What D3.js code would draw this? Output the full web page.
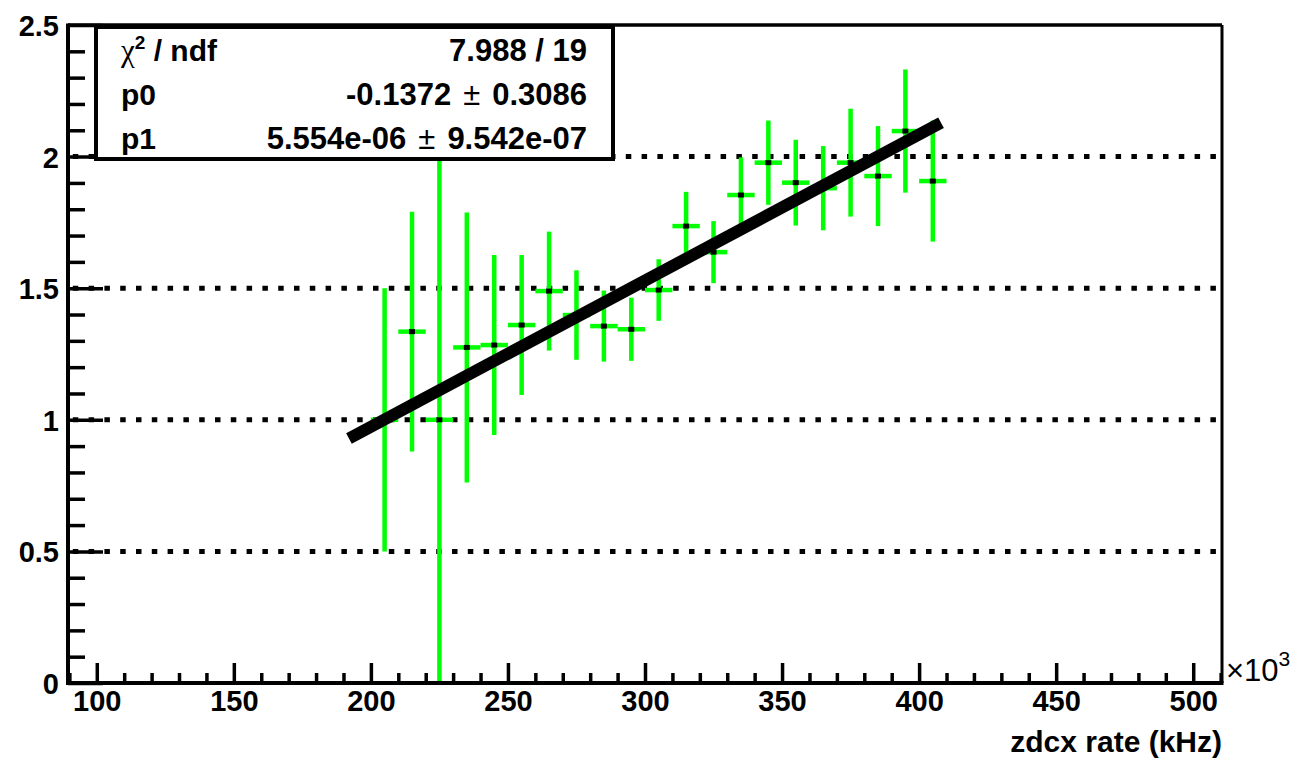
<!DOCTYPE html>
<html>
<head>
<meta charset="utf-8">
<script src="https://cdn.jsdelivr.net/npm/d3@7/dist/d3.min.js"></script>
<style>
  html, body { margin: 0; padding: 0; background: #fff; }
  svg { display: block; }
  text { font-family: "Liberation Sans", Arial, Helvetica, sans-serif; }
</style>
</head>
<body>
<svg id="chart" width="1290" height="759"></svg>
<script>
// ---- data (x in units of 10^3 kHz as shown on the axis) ----
const xValues = [205, 215, 225, 235, 245, 255, 265, 275, 285, 295, 305, 315, 325, 335, 345, 355, 365, 375, 385, 395, 405];
const yValues = [1.000, 1.335, 1.000, 1.275, 1.284, 1.360, 1.489, 1.398, 1.356, 1.344, 1.493, 1.736, 1.637, 1.854, 1.977, 1.901, 1.880, 1.977, 1.926, 2.097, 1.907];
const yErrors = [0.500, 0.455, 1.000, 0.513, 0.342, 0.266, 0.226, 0.170, 0.135, 0.120, 0.117, 0.130, 0.118, 0.143, 0.160, 0.163, 0.160, 0.205, 0.190, 0.234, 0.230];
const xHalfWidth = 5;
const fitRange = [192, 408];
const fitParams = { p0: -0.1372, p1: 5.554e-06 };
const xMajorTicks = [100, 150, 200, 250, 300, 350, 400, 450, 500];
const yMajorTicks = [0, 0.5, 1, 1.5, 2, 2.5];
const yTickLabels = ["0", "0.5", "1", "1.5", "2", "2.5"];
const gridLevels = [0.5, 1, 1.5, 2];
const statsLabels = ["chi2", "p0", "p1"];
const statsValues = [["7.988 / 19"], ["-0.1372", "\u00b1", "0.3086"], ["5.554e-06", "\u00b1", "9.542e-07"]];
const xTitle = "zdcx rate (kHz)";

// ---- layout ----
const frame = { left: 68, right: 1222, top: 25, bottom: 683 };
const svg = d3.select("#chart");
const x = d3.scaleLinear().domain([89.5, 510.5]).range([frame.left, frame.right]);
const y = d3.scaleLinear().domain([0, 2.5]).range([frame.bottom, frame.top]);
const green = "#00ff00";

// grid (horizontal dotted lines)
svg.append("g").selectAll("line").data(gridLevels).join("line")
  .attr("x1", frame.left).attr("x2", frame.right)
  .attr("y1", d => y(d)).attr("y2", d => y(d))
  .attr("stroke", "#000").attr("stroke-width", 5)
  .attr("stroke-dasharray", "5.5 10.3").attr("stroke-dashoffset", 11);

// error bars
const pts = xValues.map((xv, i) => ({ x: xv, y: yValues[i], e: yErrors[i] }));
const gE = svg.append("g").attr("stroke", green).attr("stroke-width", 4.5);
gE.selectAll("line.v").data(pts).join("line").attr("class", "v")
  .attr("x1", d => x(d.x)).attr("x2", d => x(d.x))
  .attr("y1", d => y(Math.max(0, d.y - d.e))).attr("y2", d => y(d.y + d.e));
gE.selectAll("line.h").data(pts).join("line").attr("class", "h")
  .attr("x1", d => x(d.x - xHalfWidth)).attr("x2", d => x(d.x + xHalfWidth))
  .attr("y1", d => y(d.y)).attr("y2", d => y(d.y));
svg.append("g").selectAll("rect").data(pts).join("rect")
  .attr("x", d => x(d.x) - 3).attr("y", d => y(d.y) - 2.5)
  .attr("width", 6).attr("height", 5).attr("fill", "#000");

// fit line
const fitY = xv => fitParams.p0 + fitParams.p1 * xv * 1000;
svg.append("line")
  .attr("x1", x(fitRange[0])).attr("y1", y(fitY(fitRange[0])))
  .attr("x2", x(fitRange[1])).attr("y2", y(fitY(fitRange[1])))
  .attr("stroke", "#000").attr("stroke-width", 12);

// axes ticks
const xMinor = d3.range(90, 511, 10).filter(v => v % 50 !== 0);
const yMinor = d3.range(0, 26).map(v => v / 10).filter(v => Math.round(v * 10) % 5 !== 0);

const gx = svg.append("g").attr("transform", `translate(0,${frame.bottom})`)
  .call(d3.axisBottom(x).tickValues(xMajorTicks).tickSizeInner(-20).tickSizeOuter(0).tickPadding(7).tickFormat(d3.format("d")));
const gxm = svg.append("g").attr("transform", `translate(0,${frame.bottom})`)
  .call(d3.axisBottom(x).tickValues(xMinor).tickSizeInner(-10).tickSizeOuter(0).tickFormat(""));
const gy = svg.append("g").attr("transform", `translate(${frame.left},0)`)
  .call(d3.axisLeft(y).tickValues(yMajorTicks).tickSizeInner(-35).tickSizeOuter(0).tickPadding(9)
    .tickFormat((d, i) => yTickLabels[i]));
const gym = svg.append("g").attr("transform", `translate(${frame.left},0)`)
  .call(d3.axisLeft(y).tickValues(yMinor).tickSizeInner(-17).tickSizeOuter(0).tickFormat(""));
[gx, gxm, gy, gym].forEach(g => {
  g.select(".domain").remove();
  g.selectAll(".tick line").attr("stroke", "#000").attr("stroke-width", 3.5);
  g.selectAll("text").attr("fill", "#000").attr("font-size", 29).attr("font-weight", "bold")
    .attr("font-family", "'Liberation Sans', Arial, Helvetica, sans-serif");
});
gy.selectAll("text").attr("dy", "0.36em");

// stats box
const box = { x: 96, y: 27, w: 517, h: 132 };
svg.append("rect").attr("x", box.x).attr("y", box.y).attr("width", box.w).attr("height", box.h)
  .attr("fill", "#fff").attr("stroke", "#000").attr("stroke-width", 4);
const rowBase = [61, 105, 149];
statsLabels.forEach((lab, i) => {
  const t = svg.append("text").attr("x", 121).attr("y", rowBase[i])
    .attr("font-size", 30).attr("font-weight", "bold").attr("fill", "#000");
  if (lab === "chi2") {
    t.append("tspan").attr("font-weight", "normal").attr("font-family", "'Liberation Serif', serif").attr("font-size", 31).text("\u03c7");
    t.append("tspan").attr("font-size", 19).attr("dy", -12).text("2");
    t.append("tspan").attr("dy", 12).text(" / ndf");
  } else {
    t.text(lab);
  }
  const v = svg.append("text").attr("x", 587).attr("y", rowBase[i]).attr("text-anchor", "end")
    .attr("font-size", 31).attr("font-weight", "bold").attr("fill", "#000");
  statsValues[i].forEach((s, k) => {
    const sp = v.append("tspan").text(s);
    if (s === "\u00b1") sp.attr("font-weight", "normal").attr("dx", 12);
    else if (k > 0) sp.attr("dx", 12);
  });
});

// frame
svg.append("line").attr("x1", frame.left).attr("x2", frame.right).attr("y1", frame.top).attr("y2", frame.top)
  .attr("stroke", "#000").attr("stroke-width", 3.5);
svg.append("line").attr("x1", frame.right).attr("x2", frame.right).attr("y1", frame.top).attr("y2", frame.bottom)
  .attr("stroke", "#000").attr("stroke-width", 3);
svg.append("line").attr("x1", frame.left).attr("x2", frame.left).attr("y1", frame.top - 1.5).attr("y2", frame.bottom + 2)
  .attr("stroke", "#000").attr("stroke-width", 4);
svg.append("line").attr("x1", frame.left - 2).attr("x2", frame.right + 1.5).attr("y1", frame.bottom).attr("y2", frame.bottom)
  .attr("stroke", "#000").attr("stroke-width", 4);

// exponent label
const ex = svg.append("text").attr("x", 1226).attr("y", 681).attr("font-size", 31).attr("fill", "#000");
ex.append("tspan").text("\u00d710");
ex.append("tspan").attr("font-size", 21).attr("dy", -15).text("3");

// axis title
svg.append("text").attr("x", frame.right).attr("y", 752).attr("text-anchor", "end")
  .attr("font-size", 30).attr("font-weight", "bold").attr("fill", "#000").text(xTitle);
</script>
</body>
</html>
